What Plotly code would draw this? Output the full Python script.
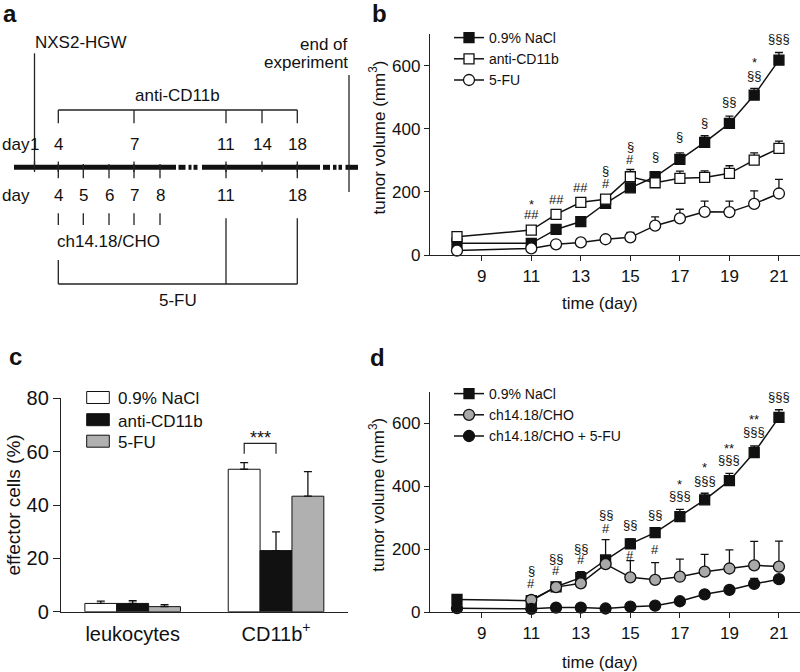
import plotly.graph_objects as go

W, H = 800, 672
FONT = "Liberation Sans, Arial, sans-serif"
INK = "#111111"

# ---------------- data: panel b ----------------
days = [8, 11, 12, 13, 14, 15, 16, 17, 18, 19, 20, 21]
b_names = ["0.9% NaCl", "anti-CD11b", "5-FU"]
b_nacl = [37, 37, 81, 106, 164, 213, 248, 303, 357, 417, 507, 618]
b_nacl_err = [6, 6, 8, 8, 8, 11, 11, 21, 21, 23, 21, 24]
b_anti = [58, 79, 129, 167, 177, 248, 229, 243, 246, 259, 301, 338]
b_anti_err = [6, 8, 8, 8, 8, 23, 8, 23, 21, 24, 23, 23]
b_5fu = [14, 21, 34, 40, 50, 56, 93, 116, 137, 136, 162, 195]
b_5fu_err = [5, 5, 6, 6, 8, 16, 28, 29, 34, 35, 41, 45]

b_sig_days = [11, 11, 12, 13, 14, 14, 15, 15, 16, 17, 18, 19, 20, 20, 21, 21]
b_sig_text = ["*", "##", "##", "##", "§", "#", "§", "#", "§", "§", "§", "§§", "*", "§§", "*", "§§§"]
b_sig_y = [161, 127, 176, 213, 269, 227, 343, 303, 312, 375, 419, 486, 610, 570, 726, 687]

# ---------------- data: panel d ----------------
d_names = ["0.9% NaCl", "ch14.18/CHO", "ch14.18/CHO + 5-FU"]
d_nacl = [41, 37, 81, 110, 166, 217, 253, 304, 357, 418, 507, 619]
d_nacl_err = [6, 6, 8, 19, 10, 16, 14, 23, 21, 23, 21, 24]
cho_days = [11, 12, 13, 14, 15, 16, 17, 18, 19, 20, 21]
d_cho = [39, 80, 92, 153, 111, 103, 113, 129, 139, 149, 145]
d_cho_err = [6, 6, 8, 78, 53, 55, 56, 55, 59, 76, 81]
d_combo = [13, 11, 15, 15, 12, 18, 21, 35, 57, 71, 90, 105]
d_combo_err = [4, 4, 4, 4, 4, 5, 5, 6, 8, 10, 18, 8]

d_sig_days = [11, 11, 12, 12, 13, 13, 14, 14, 15, 15, 16, 16, 17, 17, 18, 18, 19, 19, 20, 20, 21, 21]
d_sig_text = ["§", "#", "§§", "#", "§§", "#", "§§", "#", "§§", "#", "§§", "#",
              "*", "§§§", "*", "§§§", "**", "§§§", "**", "§§§", "***", "§§§"]
d_sig_y = [134, 92, 171, 134, 203, 168, 309, 267, 279, 179, 309, 198,
           407, 370, 460, 420, 520, 486, 611, 574, 724, 685]

time_ticks = [9, 11, 13, 15, 17, 19, 21]
vol_ticks = [0, 200, 400, 600]

# ---------------- data: panel c ----------------
c_categories = ["leukocytes", "CD11b<sup>+</sup>"]
c_names = ["0.9% NaCl", "anti-CD11b", "5-FU"]
c_nacl = [3.1, 53.4]
c_nacl_err = [0.9, 2.5]
c_anti = [3.1, 22.9]
c_anti_err = [1.0, 7.0]
c_5fu = [1.9, 43.3]
c_5fu_err = [0.7, 9.2]
c_ticks = [0, 20, 40, 60, 80]

# ---------------- data: panel a (schedule) ----------------
top_days = [1, 4, 7, 11, 14, 18]
bottom_days = [4, 5, 6, 7, 8, 11, 18]
antibody_days = [4, 5, 6, 7, 8]
anti_cd11b_days = [4, 7, 11, 14, 18]
fu_days = [4, 11, 18]

# ---------------- styles ----------------
GRAY_BAR = "#b0b0b0"
GRAY_PT = "#a9a9a9"
LINEW = 1.5


def err(vals):
    return dict(type="data", array=vals, arrayminus=[0] * len(vals), symmetric=False,
                color=INK, thickness=1.3, width=4)


fig = go.Figure()

b_series = [
    (b_nacl, b_nacl_err, "square", INK, 10),
    (b_anti, b_anti_err, "square", "white", 10),
    (b_5fu, b_5fu_err, "circle", "white", 11),
]
for i, (vals, errs, sym, fill, sz) in enumerate(b_series):
    fig.add_trace(go.Scatter(
        x=days, y=vals, name=b_names[i], mode="lines+markers",
        line=dict(color=INK, width=LINEW),
        marker=dict(symbol=sym, color=fill, size=sz, line=dict(color=INK, width=1.3)),
        error_y=err(errs), xaxis="x", yaxis="y", legend="legend", cliponaxis=False))

d_series = [
    (days, d_nacl, d_nacl_err, "square", INK, 10),
    (cho_days, d_cho, d_cho_err, "circle", GRAY_PT, 11),
    (days, d_combo, d_combo_err, "circle", INK, 11),
]
for i, (xs, vals, errs, sym, fill, sz) in enumerate(d_series):
    fig.add_trace(go.Scatter(
        x=xs, y=vals, name=d_names[i], mode="lines+markers",
        line=dict(color=INK, width=LINEW),
        marker=dict(symbol=sym, color=fill, size=sz, line=dict(color=INK, width=1.3)),
        error_y=err(errs), xaxis="x2", yaxis="y2", legend="legend2", cliponaxis=False))

c_series = [(c_nacl, c_nacl_err, "white"), (c_anti, c_anti_err, INK), (c_5fu, c_5fu_err, GRAY_BAR)]
for i, (vals, errs, col) in enumerate(c_series):
    fig.add_trace(go.Bar(
        x=c_categories, y=vals, name=c_names[i],
        marker=dict(color=col, line=dict(color=INK, width=1)),
        error_y=err(errs), xaxis="x3", yaxis="y3", showlegend=False))

shapes = []
annotations = []


def px(x):
    return x / W


def py(y):
    return 1 - y / H


def L(x0, y0, x1, y1, w=1.3, color="#222222"):
    shapes.append(dict(type="line", xref="paper", yref="paper",
                       x0=px(x0), y0=py(y0), x1=px(x1), y1=py(y1),
                       line=dict(color=color, width=w)))


def T(x, y, text, size=17, xanchor="center", bold=False, angle=0):
    annotations.append(dict(xref="paper", yref="paper", x=px(x), y=py(y), text=("<b>%s</b>" % text) if bold else text,
                            showarrow=False, xanchor=xanchor, yanchor="middle", textangle=angle,
                            font=dict(size=size, color=INK, family=FONT)))


# ---------------- panel a drawing ----------------
DAYX = {1: 34.5, 4: 58.3, 5: 83.3, 6: 109, 7: 134, 8: 160, 11: 226, 14: 262, 18: 297.3}
LINE_Y = 167.3

for (a, b) in [(14, 176), (178.5, 185.5), (188.5, 191.5), (193.5, 197.5), (202, 320),
               (323, 330), (333, 336.5), (338.5, 342), (345.5, 358)]:
    L(a, LINE_Y, b, LINE_Y, w=5, color="#111111")

for d in top_days:
    L(DAYX[d], 161.5, DAYX[d], 172)
for d in bottom_days:
    L(DAYX[d], 164, DAYX[d], 178.3)

L(DAYX[1], 53.3, DAYX[1], LINE_Y)
L(349, 75, 349, 192)

L(DAYX[anti_cd11b_days[0]], 110, DAYX[anti_cd11b_days[-1]], 110)
for d in anti_cd11b_days:
    L(DAYX[d], 110, DAYX[d], 123.3)

for d in antibody_days:
    L(DAYX[d], 213.3, DAYX[d], 225)

L(DAYX[4], 260, DAYX[4], 284)
L(DAYX[11], 218.3, DAYX[11], 284)
L(DAYX[18], 218.3, DAYX[18], 284)
L(DAYX[fu_days[0]], 284, DAYX[fu_days[-1]], 284)

T(80.8, 42.4, "NXS2-HGW")
T(349.5, 44.1, "end of", xanchor="right")
T(349.5, 62.4, "experiment", xanchor="right")
T(177.5, 95.8, "anti-CD11b")
T(-0.5, 144.6, "day", xanchor="left")
for d in top_days:
    T(DAYX[d], 144.6, str(d))
T(-0.5, 195.8, "day", xanchor="left")
for d in bottom_days:
    T(DAYX[d], 195.8, str(d))
T(108, 241.6, "ch14.18/CHO")
T(177.5, 300.8, "5-FU")

T(10, 13.7, "a", size=24, bold=True)
T(379, 13.4, "b", size=24, bold=True)
T(15, 356.7, "c", size=24, bold=True)
T(377.5, 357.4, "d", size=24, bold=True)

T(377, 137.5, "tumor volume (mm<sup>3</sup>)", angle=-90)
T(377, 494.8, "tumor volume (mm<sup>3</sup>)", angle=-90)
T(600, 304, "time (day)")
T(600, 662, "time (day)")
T(12.5, 505, "effector cells (%)", size=19, angle=-90)

for dd, tt, yy in zip(b_sig_days, b_sig_text, b_sig_y):
    annotations.append(dict(xref="x", yref="y", x=dd, y=yy, text=tt, showarrow=False,
                            xanchor="center", yanchor="middle", font=dict(size=13, color=INK, family=FONT)))
for dd, tt, yy in zip(d_sig_days, d_sig_text, d_sig_y):
    annotations.append(dict(xref="x2", yref="y2", x=dd, y=yy, text=tt, showarrow=False,
                            xanchor="center", yanchor="middle", font=dict(size=13, color=INK, family=FONT)))

shapes.append(dict(type="path", xref="x3", yref="y3",
                   path="M 0.778 59.2 L 0.778 63.1 L 1.0 63.1 L 1.0 59.2",
                   line=dict(color="#222222", width=1.2)))
annotations.append(dict(xref="x3", yref="y3", x=0.889, y=65.0, text="***", showarrow=False,
                        xanchor="center", yanchor="middle", font=dict(size=18, color=INK, family=FONT)))

c_leg_y = [397.5, 419.7, 441.2]
for i, (vals, errs, col) in enumerate(c_series):
    shapes.append(dict(type="rect", xref="paper", yref="paper",
                       x0=px(86.7), x1=px(109.3), y0=py(c_leg_y[i] - 6), y1=py(c_leg_y[i] + 6),
                       fillcolor=col, line=dict(color=INK, width=1)))
    T(115.5, c_leg_y[i] + 1.3, c_names[i], size=17, xanchor="left")

axis_common = dict(showline=True, linecolor="#222222", linewidth=1.3, showgrid=False,
                   zeroline=False, ticks="outside", tickcolor="#222222", tickwidth=1.3,
                   automargin=False, tickfont=dict(size=17, color=INK, family=FONT))

fig.update_layout(
    width=W, height=H, margin=dict(l=0, r=0, t=0, b=0, pad=0, autoexpand=False), autosize=False,
    paper_bgcolor="white", plot_bgcolor="white",
    font=dict(family=FONT, color=INK),
    showlegend=True,
    barmode="group", bargap=0.333, bargroupgap=0,
    xaxis=dict(domain=[430 / W, 1.0], range=[6.91, 21.85], tickvals=time_ticks, ticklen=5,
               anchor="y", **axis_common),
    yaxis=dict(domain=[1 - 255 / H, 1 - 34.2 / H], range=[0, 700], tickvals=vol_ticks, ticklen=5,
               anchor="x", **axis_common),
    xaxis2=dict(domain=[430 / W, 1.0], range=[6.91, 21.85], tickvals=time_ticks, ticklen=5,
                anchor="y2", **axis_common),
    yaxis2=dict(domain=[1 - 612.3 / H, 1 - 391.8 / H], range=[0, 700], tickvals=vol_ticks, ticklen=5,
                anchor="x2", **axis_common),
    xaxis3=dict(domain=[61 / W, 347.7 / W], anchor="y3", type="category", automargin=False,
                showline=True, linecolor="#222222", linewidth=1.3, showgrid=False, zeroline=False,
                ticks="", ticklabelstandoff=4, tickfont=dict(size=20, color=INK, family=FONT)),
    yaxis3=dict(domain=[1 - 611.7 / H, 1 - 398.3 / H], range=[0, 80], tickvals=c_ticks, ticklen=7,
                anchor="x3", **{**axis_common, "tickfont": dict(size=20, color=INK, family=FONT)}),
    legend=dict(x=449 / W, y=1 - 22 / H, xanchor="left", yanchor="top", font=dict(size=14, color=INK),
                bgcolor="rgba(0,0,0,0)", tracegroupgap=0, itemwidth=30),
    legend2=dict(x=449 / W, y=1 - 378 / H, xanchor="left", yanchor="top", font=dict(size=14, color=INK),
                 bgcolor="rgba(0,0,0,0)", tracegroupgap=0, itemwidth=30),
    shapes=shapes, annotations=annotations,
)

fig.write_html("out.html", config={"responsive": False, "displayModeBar": False},
               post_script="document.body.style.margin='0';document.body.style.overflow='hidden';")
